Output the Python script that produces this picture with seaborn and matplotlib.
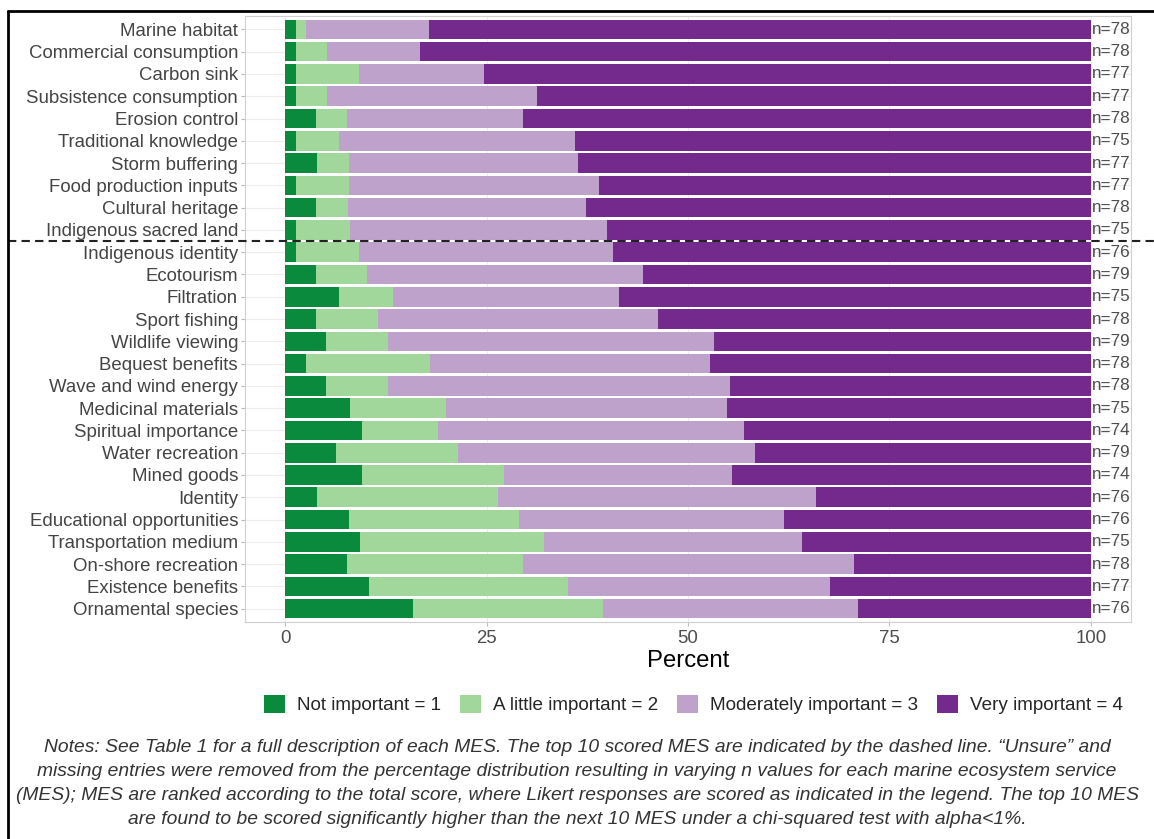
import numpy as np
import pandas as pd
import matplotlib
matplotlib.use('Agg')
import matplotlib.pyplot as plt
from matplotlib.patches import Patch
from matplotlib.lines import Line2D
import seaborn as sns

# Marine ecosystem services, ranked by total score (top to bottom)
services = [
    'Marine habitat', 'Commercial consumption', 'Carbon sink', 'Subsistence consumption',
    'Erosion control', 'Traditional knowledge', 'Storm buffering', 'Food production inputs',
    'Cultural heritage', 'Indigenous sacred land', 'Indigenous identity', 'Ecotourism',
    'Filtration', 'Sport fishing', 'Wildlife viewing', 'Bequest benefits',
    'Wave and wind energy', 'Medicinal materials', 'Spiritual importance', 'Water recreation',
    'Mined goods', 'Identity', 'Educational opportunities', 'Transportation medium',
    'On-shore recreation', 'Existence benefits', 'Ornamental species',
]

# percent of responses in each Likert class
not_imp = [1.3, 1.3, 1.3, 1.3, 3.8, 1.3, 3.9, 1.3, 3.8, 1.3, 1.3, 3.8, 6.7, 3.8,
           5.1, 2.6, 5.1, 8.0, 9.5, 6.3, 9.5, 4.0, 7.9, 9.3, 7.7, 10.4, 15.8]
little_imp = [1.3, 3.9, 7.8, 3.9, 3.9, 5.4, 4.0, 6.6, 4.0, 6.7, 7.9, 6.4, 6.7, 7.7,
              7.6, 15.4, 7.7, 12.0, 9.4, 15.2, 17.6, 22.4, 21.1, 22.8, 21.8, 24.7, 23.7]
moderate_imp = [15.3, 11.5, 15.6, 26.0, 21.8, 29.3, 28.5, 31.1, 29.5, 32.0, 31.5, 34.2, 28.0, 34.8,
                40.5, 34.7, 42.4, 34.8, 38.0, 36.8, 28.4, 39.5, 32.9, 32.0, 41.1, 32.5, 31.6]
very_imp = [82.1, 83.3, 75.3, 68.8, 70.5, 64.0, 63.6, 61.0, 62.7, 60.0, 59.3, 55.6, 58.6, 53.7,
            46.8, 47.3, 44.8, 45.2, 43.1, 41.7, 44.5, 34.1, 38.1, 35.9, 29.4, 32.4, 28.9]
n_resp = [78, 78, 77, 77, 78, 75, 77, 77, 78, 75, 76, 79, 75, 78,
          79, 78, 78, 75, 74, 79, 74, 76, 76, 75, 78, 77, 76]

legend_labels = ['Not important = 1', 'A little important = 2',
                 'Moderately important = 3', 'Very important = 4']
colors = ['#0a8a3c', '#a1d79b', '#bfa2cc', '#742a8c']

note_lines = [
    'Notes: See Table 1 for a full description of each MES. The top 10 scored MES are indicated by the dashed line. \u201cUnsure\u201d and',
    'missing entries were removed from the percentage distribution resulting in varying n values for each marine ecosystem service',
    '(MES); MES are ranked according to the total score, where Likert responses are scored as indicated in the legend. The top 10 MES',
    'are found to be scored significantly higher than the next 10 MES under a chi-squared test with alpha<1%.',
]

df = pd.DataFrame({
    'service': services,
    'not': not_imp,
    'little': little_imp,
    'moderate': moderate_imp,
    'very': very_imp,
    'n': n_resp,
})
# cumulative right edge of each segment
df['c1'] = df['not']
df['c2'] = df['c1'] + df['little']
df['c3'] = df['c2'] + df['moderate']
df['c4'] = df['c3'] + df['very']

sns.set_theme(style='white')
plt.rcParams['font.family'] = ['Liberation Sans', 'DejaVu Sans']

fig = plt.figure(figsize=(11.54, 8.39), dpi=100)
ax = fig.add_axes([0.2123, 0.2586, 0.7678, 0.7223])

# overlay bars from longest to shortest to get the stacked look
for col, color in zip(['c4', 'c3', 'c2', 'c1'], colors[::-1]):
    sns.barplot(data=df, x=col, y='service', order=services, color=color,
                saturation=1, width=0.88, linewidth=0, errorbar=None, ax=ax)

for i, row in df.iterrows():
    ax.text(row['c4'] + 0.1, i, f"n={row['n']}", ha='left', va='center',
            fontsize=12.3, color='#4d4d4d')

ax.set_xlim(-5, 105)
ax.set_ylim(len(services) - 0.4, -0.6)
ax.set_xticks([0, 25, 50, 75, 100])
ax.set_xticklabels(['0', '25', '50', '75', '100'])
ax.set_xlabel('Percent', fontsize=17.2, color='black', labelpad=2)
ax.set_ylabel('')
ax.tick_params(axis='y', labelsize=13.4, labelcolor='#444444', length=3, width=0.8,
               color='#bbbbbb', pad=2, left=True)
ax.tick_params(axis='x', labelsize=13.4, labelcolor='#4d4d4d', length=3, width=0.8,
               color='#bbbbbb', pad=3, bottom=True)

ax.set_axisbelow(True)
ax.grid(True, axis='both', color='#ececec', linewidth=0.8)
for s in ax.spines.values():
    s.set_color('#cfcfcf')
    s.set_linewidth(0.8)

# dashed line separating the top 10 services, running across the whole figure
left_px, width_px = 245, 886
ax.axhline(9.5, xmin=(8 - left_px) / width_px, xmax=(1154 - left_px) / width_px,
           color='#222222', linestyle=(0, (4, 2.5)), linewidth=1.5, clip_on=False, zorder=5)

handles = [Patch(facecolor=c, edgecolor='none') for c in colors]
fig.legend(handles, legend_labels, loc='center', bbox_to_anchor=(693.5 / 1154, 1 - 704.5 / 839),
           ncol=4, frameon=False, fontsize=13.6, handlelength=1.1, handleheight=1.1,
           handletextpad=0.65, columnspacing=1.0, borderaxespad=0)

for k, line in enumerate(note_lines):
    fig.text(0.5, 1 - (747 + 24 * k) / 839, line, ha='center', va='center',
             fontsize=13.9, style='italic', color='#333333')

# frame lines on the left and top edges of the image
fig.add_artist(Line2D([8 / 1154, 8 / 1154], [0, 1 - 11 / 839], color='black', linewidth=2))
fig.add_artist(Line2D([8 / 1154, 1], [1 - 11 / 839, 1 - 11 / 839], color='black', linewidth=2))

fig.savefig('out.png', dpi=100)
